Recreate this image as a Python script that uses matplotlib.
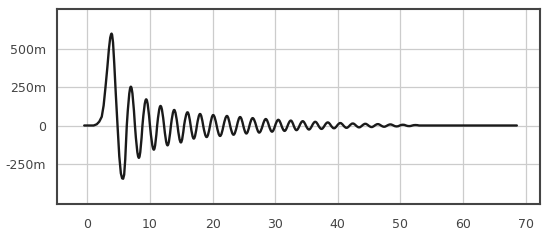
import numpy as np
import matplotlib
matplotlib.use("Agg")
import matplotlib.pyplot as plt
from matplotlib.path import Path
from matplotlib.patches import PathPatch

# main pulse (time, value)
pulse_t = [-0.5, 1.0, 1.5, 1.9, 2.3, 2.6, 2.9, 3.2, 3.45, 3.65, 3.8, 3.87, 3.95, 4.1, 4.3, 4.55, 4.82,
           5.1, 5.35, 5.55, 5.72, 5.88, 6.05, 6.3]
pulse_v = [0.0, 0.0, 0.008, 0.025, 0.057, 0.13, 0.25, 0.38, 0.5, 0.57, 0.594, 0.597, 0.59, 0.54, 0.4, 0.2, 0.0,
           -0.2, -0.31, -0.343, -0.346, -0.32, -0.22, 0.0]

# ringing: peaks and troughs
ring_t = [6.95, 8.23, 9.4, 10.62, 11.69, 12.81, 13.87, 14.94, 16.0, 17.0, 18.0, 19.05,
          20.1, 21.2, 22.3, 23.35, 24.4, 25.4, 26.4, 27.45, 28.5, 29.5, 30.5, 31.5,
          32.5, 33.4, 34.4, 35.4, 36.4, 37.4, 38.4, 39.4, 40.4, 41.4, 42.4, 43.4,
          44.4, 45.4, 46.4, 47.4, 48.4, 49.4, 50.4, 51.4, 52.4]
ring_v = [0.252, -0.21, 0.17, -0.157, 0.127, -0.129, 0.101, -0.11, 0.086, -0.085, 0.075, -0.075,
          0.068, -0.068, 0.062, -0.06, 0.055, -0.052, 0.048, -0.046, 0.042, -0.04, 0.037, -0.035,
          0.032, -0.03, 0.028, -0.026, 0.024, -0.022, 0.02, -0.018, 0.016, -0.015, 0.013, -0.012,
          0.011, -0.01, 0.009, -0.008, 0.007, -0.006, 0.005, -0.004, 0.003]

# zero crossings after each ringing extremum
cross_t = [7.6, 8.8, 10.0, 11.15, 12.25, 13.35, 14.4, 15.45, 16.5, 17.5, 18.5, 19.6,
           20.65, 21.75, 22.8, 23.9, 24.9, 25.9, 26.95, 28.0, 29.0, 30.0, 31.0, 32.0,
           32.95, 33.9, 34.9, 35.9, 36.9, 37.9, 38.9, 39.9, 40.9, 41.9, 42.9, 43.9,
           44.9, 45.9, 46.9, 47.9, 48.9, 49.9, 50.9, 51.9, 53.0]
tail_end = 68.6

yticks = [-0.25, 0, 0.25, 0.5]
ytick_labels = ["-250m", "0", "250m", "500m"]
xticks = [0, 10, 20, 30, 40, 50, 60, 70]

# build one path: polyline for the pulse, quarter-sine shaped beziers for the ringing
verts = list(zip(pulse_t, pulse_v))
codes = [Path.MOVETO] + [Path.LINETO] * (len(verts) - 1)
t0 = pulse_t[-1]
for tp, vp, tc in zip(ring_t, ring_v, cross_t):
    d = tp - t0
    verts += [(t0 + 0.326 * d, 0.512 * vp), (t0 + 0.638 * d, vp), (tp, vp)]
    d = tc - tp
    verts += [(tp + 0.362 * d, vp), (tp + 0.674 * d, 0.512 * vp), (tc, 0.0)]
    codes += [Path.CURVE4] * 6
    t0 = tc
verts.append((tail_end, 0.0))
codes.append(Path.LINETO)

fig = plt.figure(figsize=(5.5, 2.43), dpi=100)
ax = fig.add_axes([57.3 / 550, 1 - 204 / 243, (540 - 57.3) / 550, (204 - 9.3) / 243])

ax.add_patch(PathPatch(Path(verts, codes), fill=False, edgecolor="#1a1a1a", lw=1.7,
                       joinstyle="round", capstyle="round"))

ax.set_xlim(-4.8, 72.3)
ax.set_ylim(-0.51, 0.755)
ax.set_xticks(xticks)
ax.set_yticks(yticks)
ax.set_yticklabels(ytick_labels)
ax.grid(True, color="#cccccc", lw=0.9)
ax.set_axisbelow(True)
ax.tick_params(length=0, labelsize=9, labelcolor="#444444")
ax.tick_params(axis="y", pad=8)
ax.tick_params(axis="x", pad=10)
for s in ax.spines.values():
    s.set_color("#444444")
    s.set_linewidth(1.5)

fig.savefig("out.png", dpi=100)
